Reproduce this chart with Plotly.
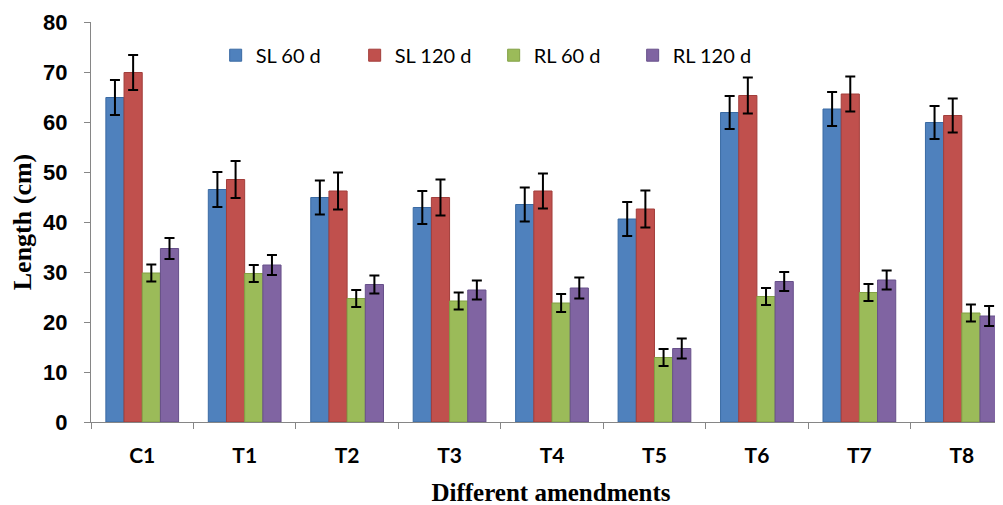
import plotly.graph_objects as go

categories = ["C1", "T1", "T2", "T3", "T4", "T5", "T6", "T7", "T8"]
series_names = ["SL 60 d", "SL 120 d", "RL 60 d", "RL 120 d"]

sl60 = [64.9, 46.5, 44.9, 42.9, 43.5, 40.6, 61.9, 62.6, 59.9]
sl120 = [69.9, 48.5, 46.2, 44.9, 46.2, 42.6, 65.3, 65.6, 61.3]
rl60 = [29.8, 29.7, 24.7, 24.2, 23.8, 12.9, 25.1, 25.9, 21.8]
rl120 = [34.7, 31.4, 27.5, 26.4, 26.8, 14.7, 28.1, 28.4, 21.2]

sl60_err = [3.5, 3.5, 3.4, 3.3, 3.4, 3.4, 3.3, 3.4, 3.3]
sl120_err = [3.5, 3.7, 3.7, 3.6, 3.5, 3.7, 3.6, 3.5, 3.4]
rl60_err = [1.7, 1.7, 1.7, 1.7, 1.8, 1.7, 1.7, 1.7, 1.7]
rl120_err = [2.1, 2.0, 1.8, 1.9, 2.1, 2.0, 1.9, 1.9, 2.0]

colors = ["#4F81BD", "#C0504D", "#9BBB59", "#8064A2"]
edges = ["#3A6AA3", "#A23E3B", "#82A044", "#67508A"]

values = [sl60, sl120, rl60, rl120]
errors = [sl60_err, sl120_err, rl60_err, rl120_err]

fig = go.Figure()
for name, vals, errs, c, e in zip(series_names, values, errors, colors, edges):
    fig.add_trace(go.Bar(
        x=categories, y=vals, name=name,
        marker=dict(color=c, line=dict(color=e, width=1)),
        error_y=dict(type="data", array=errs, visible=True,
                     color="black", thickness=2, width=5),
    ))

fig.update_layout(
    width=1003, height=505,
    margin=dict(l=83, r=0, t=14, b=91, autoexpand=False),
    paper_bgcolor="white", plot_bgcolor="white",
    barmode="group", bargap=0.29, bargroupgap=0,
    legend=dict(
        orientation="h", x=0.1355, y=0.917, xanchor="left", yanchor="middle",
        font=dict(family="Lato", size=20, color="black"),
        entrywidth=94, entrywidthmode="pixels",
        bgcolor="rgba(0,0,0,0)",
    ),
    xaxis=dict(
        range=[-0.5, 8.48], automargin=False,
        showline=True, linecolor="#868686", linewidth=1,
        ticks="outside", tickson="boundaries", ticklen=6, tickcolor="#868686",
        tickfont=dict(family="Lato", size=21, color="black", weight="bold"),
        ticklabelstandoff=15,
        title=dict(text="Different amendments",
                   font=dict(family="Liberation Serif", size=25, color="black", weight="bold"),
                   standoff=17),
        showgrid=False, zeroline=False,
    ),
    yaxis=dict(
        range=[0, 80], dtick=10, automargin=False,
        showline=True, linecolor="#868686", linewidth=1,
        ticks="outside", ticklen=6, tickcolor="#868686",
        tickfont=dict(family="Liberation Sans", size=22, color="black", weight="bold"),
        ticklabelstandoff=12,
        title=dict(text="Length (cm)",
                   font=dict(family="Liberation Serif", size=26, color="black", weight="bold"),
                   standoff=6),
        showgrid=False, zeroline=False,
    ),
)

fig.write_html("out.html")
